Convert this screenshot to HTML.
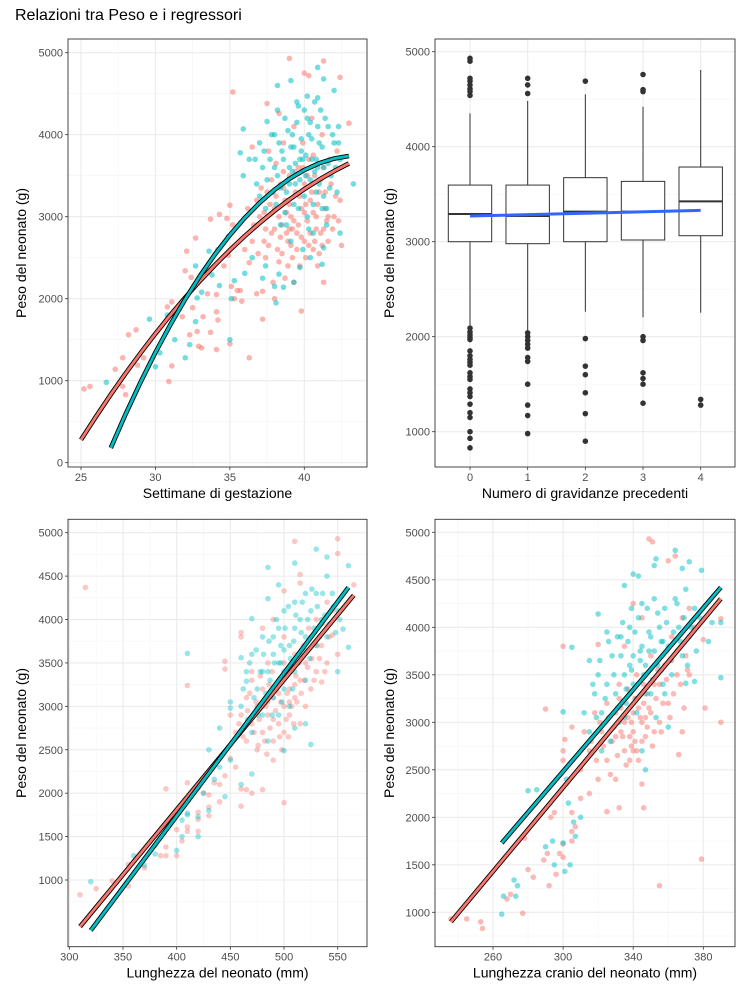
<!DOCTYPE html>
<html><head><meta charset="utf-8">
<style>
body{margin:0;background:#fff;}
svg{display:block;font-family:"Liberation Sans",Arial,sans-serif;}
</style></head>
<body>
<svg id="chart" width="750" height="1000" viewBox="0 0 750 1000" xmlns="http://www.w3.org/2000/svg">
<text x="15" y="20" font-size="16" fill="#000">Relazioni tra Peso e i regressori</text>
</svg>
<script>
// ---------- DATA ----------
// Panel 1: gestation weeks vs weight
const p1RedPts = "25.2 900,25.6 930,27.3 1140,27.8 1280,27.8 930,28 830,28.2 1560,28.7 1620,28.8 1190,29.2 1280,30.9 990,31.1 1180,30.8 1900,31.1 1960,31.8 1780,32.1 2580,32 2340,32.3 1560,32.4 2260,32.5 1890,32.8 1600,32.9 1420,33.1 1400,32.7 2740,33.2 1780,33.5 2060,33.7 1590,33.7 2970,34.1 1380,34.2 1740,34.1 1840,34.1 2050,34.3 3030,34.6 2400,34.8 2980,35 3140,34.9 2530,35 1450,35.1 2150,35.2 2900,35.3 2000,35.2 4520,35.5 2100,35.7 2100,35.8 1970,36.3 1280,36.3 2440,36.5 3850,36.8 2060,37.2 1750,37.2 2090,37.4 2500,37.5 4380,38 2000,38.3 4260,38.7 2250,39 4930,39.3 2200,39.8 1850,40 4750,40.3 4720,41.3 4900,41.3 2200,42.4 4700,42.5 2650,43 4140,42.4 3200,37 3000,37.3 2700,37.5 3300,37.8 2800,38 3100,38.2 2600,38.4 3400,38.5 2900,38.7 3200,38.9 2700,39 3500,39.1 3000,39.2 2500,39.4 3300,39.5 2800,39.6 3600,39.8 3100,40 2700,40 3400,40.2 2950,40.3 3700,40.4 3200,40.6 2600,40.7 3500,40.8 3000,41 3300,41.1 2800,41.3 3600,41.4 3100,41.6 2700,41.8 3400,42 3000,42.2 3800,37.6 3800,38.1 3650,38.6 3900,39.3 4100,39.9 3900,40.5 4200,41.2 4000,38.3 2450,39.7 2400,40.9 2400,36.8 3200,36.5 2700,37.9 2200,36 2600,36.2 3100,38.8 3050,39.6 2900,40.1 3150,40.6 3050,39.2 2850,38.4 2750,41.5 2950,36.6 2900,36.9 2550,37.1 3350,37.3 3050,37.6 2650,37.8 3450,38.0 2850,38.1 3250,38.3 3000,38.5 2550,38.6 3350,38.8 2800,39.0 3150,39.1 2650,39.3 2950,39.4 3550,39.5 2600,39.7 3250,39.8 2750,40.0 3050,40.1 2500,40.2 3500,40.4 2800,40.5 3300,40.6 3750,40.7 2700,40.9 3150,41.0 2550,41.1 3450,41.3 2850,41.4 3300,41.6 3000,41.7 3700,41.9 2850,42.1 3250,42.3 2950,37.4 2850,38.6 3550,39.9 3600,41.2 2650,38.9 2400,40.3 2650,37.7 3150,39.0 2850,40.8 2850";
const p1CyanPts = "26.7 980,29.6 1750,30 1170,30.3 1340,30.8 1800,31.3 1500,32 1280,32.3 1440,32.7 1720,32.8 2010,32.7 2400,33.1 2080,33.6 2580,33.8 2290,34.3 2160,34.2 2600,35 1500,35.1 2000,34.9 2760,35.3 2220,35.7 3780,35.9 3500,35.9 4070,36 2310,36.3 3700,36.5 2500,37.2 2250,37.5 4160,37.4 2400,38 2150,38.1 1950,38.2 4600,38.6 2140,39.1 4660,39.7 2380,40.2 4470,40.9 4820,41.3 4680,41.2 2420,41.3 2620,42 4540,42.4 2800,43.3 3400,36.8 3400,37 3900,37.2 3600,37.4 3100,37.7 3700,37.9 3300,38 4000,38.2 3500,38.4 2900,38.5 3800,38.7 4200,38.8 3300,39 3600,39.1 2700,39.2 4000,39.4 3400,39.5 4400,39.6 3100,39.8 3800,39.9 2600,40 4300,40.1 3500,40.2 3000,40.3 4000,40.5 3700,40.6 2800,40.7 4400,40.8 3300,41 3900,41.1 4300,41.2 3100,41.3 3600,41.5 2900,41.6 4100,41.8 3500,42 3900,42.2 3300,42.3 4100,42.4 3700,38.3 2300,39.3 2200,40.4 2500,39.7 3700,40.9 3600,39.3 3850,38.9 3450,40.4 4150,36.7 3700,37.0 3250,37.3 3800,37.5 3450,37.8 4000,38.0 3600,38.1 3150,38.3 3900,38.4 3350,38.6 3700,38.7 3050,38.9 4050,39.0 3400,39.1 3850,39.3 3150,39.4 3650,39.5 4150,39.7 3450,39.8 3950,40.0 3250,40.1 3750,40.2 4200,40.4 3450,40.5 3950,40.6 3150,40.8 3700,40.9 4100,41.0 3400,41.2 3850,41.3 3250,41.4 4200,41.6 3650,41.7 3350,41.9 4000,42.1 3600,42.3 3900,38.2 4300,39.6 4350,40.9 4450,38.8 2900,40.3 2850,41.5 3100,39.2 3550,40.7 3550,39.9 3700";
const p1RedCurveX = [25,26,27,28,29,30,31,32,33,34,35,36,37,38,39,40,41,42,43];
const p1RedCurveY = [280,561,831,1090,1337,1574,1800,2015,2219,2411,2593,2764,2923,3072,3210,3336,3452,3556,3650];
const p1CyanCurveX = [27,28,29,30,31,32,33,34,35,36,37,38,39,40,41,42,43];
const p1CyanCurveY = [180,594,982,1345,1682,1994,2280,2541,2776,2986,3170,3329,3462,3569,3652,3709,3740];
const p1XTicks = [25,30,35,40];
const p1YTicks = [0,1000,2000,3000,4000,5000];

// Panel 2: boxplots
const p2Cats = ["0","1","2","3","4"];
const p2Q1 = [3000,2979,3000,3018,3063];
const p2Med = [3291,3270,3316,3316,3425];
const p2Q3 = [3596,3596,3674,3635,3786];
const p2WLo = [2105,2053,2263,2204,2253];
const p2WHi = [4351,4481,4551,4421,4807];
const p2Outliers = [
  [4930,4900,4720,4690,4650,4610,4580,4540,2090,2050,2020,1990,1970,1850,1800,1760,1730,1700,1620,1580,1550,1450,1410,1370,1290,1200,1150,1000,930,830],
  [4720,4650,4560,2040,2000,1960,1920,1880,1780,1740,1500,1280,1170,980],
  [4690,1980,1690,1600,1410,1190,900],
  [4760,4600,4580,2000,1960,1620,1560,1500,1300],
  [1340,1280]
];
const p2TrendStart = 3270, p2TrendEnd = 3330;
const p2YTicks = [1000,2000,3000,4000,5000];

// Panel 3: length vs weight
const p3RedPts = "310 830,315 4370,325 900,340 990,355 930,355 1180,370 1140,380 1400,385 1280,390 1280,390 1380,390 2050,400 1280,400 1580,405 1450,410 1560,410 1610,410 3240,410 2120,420 1560,420 1780,420 1700,420 2060,425 2000,430 1740,430 1980,430 1840,435 2120,440 1900,440 2100,445 3520,445 3430,445 2200,450 2900,450 2400,455 2300,460 3850,460 3800,460 1850,460 2050,465 2040,470 2000,480 2040,490 2380,500 1890,500 4330,510 4900,515 4520,515 4420,550 4930,550 4760,565 4400,545 3820,550 3600,535 3280,455 2700,460 2900,465 3100,465 2600,470 2800,470 3300,475 2500,475 3000,480 2700,480 3200,485 2900,485 3500,490 2600,490 3100,495 2800,495 3300,500 3000,500 2700,500 3500,505 3200,505 2900,510 3100,510 3600,515 2800,515 3300,520 3500,520 3000,525 3800,525 3200,530 3400,530 4000,535 3700,540 4200,540 3500,545 4100,480 3900,490 4000,500 3800,470 3400,485 3050,495 3150,505 3050,490 2850,510 3250,458 2800,462 2650,466 2950,468 3150,472 2700,474 3050,477 2850,478 3350,482 2600,483 3000,486 3250,487 2750,489 3400,492 2950,493 3200,496 2650,497 3050,499 3350,502 2850,503 3150,506 3400,507 3000,509 2800,511 3350,512 3050,514 3500,516 3150,518 3700,519 3300,522 3450,523 3900,526 3550,528 3300,531 3700,533 3550,536 3950,538 3400,542 3800,476 2550,484 2450,498 2500,504 2650";
const p3CyanPts = "320 980,360 1280,370 1170,380 1300,400 1340,405 1500,405 1690,410 1770,410 1750,410 3610,420 1500,420 1730,425 2000,430 1800,430 2500,435 2160,440 2750,440 2300,445 1960,450 2380,450 2980,450 3050,460 2100,460 3560,465 3290,470 4010,470 2220,485 4240,485 4600,495 4400,500 2490,510 4650,510 2750,520 2800,525 2560,530 4810,540 4720,550 3400,560 4620,560 3680,555 3890,460 3000,465 3400,470 3600,470 2700,475 3200,480 3800,480 2900,485 3400,485 2600,490 3600,490 3100,495 3900,495 2900,500 3400,500 4100,500 3200,505 3700,505 3000,510 3900,510 4200,510 3400,515 3600,515 4000,520 3800,520 4300,520 3300,525 4100,530 3700,530 4300,535 4000,540 4500,540 3800,545 4300,550 4100,490 3800,480 3400,495 3500,505 3450,500 3650,462 3200,466 2850,468 3500,472 3100,474 3650,476 2900,478 3400,481 3600,483 3150,486 3750,487 3300,489 2900,491 3500,493 4000,494 3250,497 3700,498 3050,501 3900,502 3350,504 4150,506 3550,508 3200,509 3750,511 4050,513 3500,516 3850,517 4200,519 3650,522 4000,524 3550,526 4350,528 3900,531 4150,533 3800,536 4300,538 4050,542 3950,546 4150,548 3850,552 4000,481 3050,497 3500";
const p3RedLineX = [310,565], p3RedLineY = [463,4280];
const p3CyanLineX = [320,560], p3CyanLineY = [420,4370];
const p3XTicks = [300,350,400,450,500,550];
const p3YTicks = [1000,1500,2000,2500,3000,3500,4000,4500,5000];

// Panel 4: head circumference vs weight
const p4RedPts = "236 930,245 930,253 900,254 830,268 1140,270 1190,277 990,278 1780,280 1450,283 1370,289 1550,290 3140,291 1620,292 1280,293 2000,295 2050,296 1400,298 1620,300 1580,300 1720,300 2600,300 2700,300 3800,301 2820,305 1850,305 1750,305 2050,305 2950,307 1900,310 2200,312 2900,315 2250,320 3820,325 2060,332 2100,345 2350,346 2100,349 4930,351 4900,355 1280,360 4700,364 4750,366 2660,368 2900,372 3500,379 1560,381 3150,380 3870,390 3000,390 4090,310 2500,315 2700,318 3100,320 2400,322 2900,325 3200,325 2600,328 2800,330 3100,330 2400,332 3400,335 2700,335 3000,338 2600,338 3300,340 2900,340 3100,342 2700,342 3500,345 3000,345 2800,348 3300,350 3100,350 3700,352 2900,355 3400,355 3000,358 3600,360 3200,362 3900,365 3500,368 4100,370 3700,372 4200,375 4000,345 4100,340 4250,335 3800,337 3050,343 3150,333 2900,347 3050,339 2750,316 2800,319 2600,321 3000,323 2750,326 3050,327 2450,329 2950,331 2650,333 3150,334 2850,336 2550,337 3350,339 3000,341 2800,341 3250,343 2600,344 3050,346 3400,347 2850,349 3150,351 2750,353 3250,354 3550,356 2900,357 3200,359 3450,361 3050,363 3300,365 3750,367 3400,369 3150,371 3550,330 2850,338 2850,346 3200,352 3400,332 3250,340 2700,348 2950,362 3650";
const p4CyanPts = "265 980,266 1170,272 1340,273 1170,274 1280,280 2280,285 2290,290 1690,294 1750,295 1500,300 1730,300 3110,301 1430,302 2400,303 2150,304 1500,305 3790,306 1950,307 1800,310 2000,312 3100,315 3650,320 4140,322 2700,325 3950,335 4440,340 4560,343 4540,347 2500,352 4650,353 4720,364 4810,368 4620,372 4690,379 4600,383 3850,385 4050,390 3470,390 4050,375 3430,370 3410,315 2900,318 3300,320 3500,322 3100,325 3400,327 2800,328 3700,330 3300,332 3000,333 3900,335 3500,336 3200,338 4000,340 3700,340 3400,342 3100,343 4100,345 3800,346 3500,348 4200,350 3900,350 3300,352 4300,354 3600,355 4000,357 3400,358 4200,360 3800,362 3500,364 4300,366 4000,368 3700,370 4400,372 3900,375 4200,360 2950,345 2700,344 3650,338 3600,349 3750,356 3850,317 3400,319 3050,321 3650,324 3250,326 3850,329 3500,331 3150,333 3700,334 4050,336 3350,337 3850,339 3550,341 3950,342 3250,344 3750,345 4250,347 3600,349 3950,351 3450,352 3750,354 4150,356 3550,357 3850,359 4050,361 3650,363 3950,365 4250,367 3850,369 4100,371 3600,373 4000,376 3750,378 4100,335 3050,347 3300,353 3050,358 3300,331 3900,339 4200";
const p4RedLineX = [236,390], p4RedLineY = [900,4300];
const p4CyanLineX = [265,390], p4CyanLineY = [1730,4420];
const p4XTicks = [260,300,340,380];
const p4YTicks = [1000,1500,2000,2500,3000,3500,4000,4500,5000];

// ---------- DRAWING ----------
const NS = "http://www.w3.org/2000/svg";
const svg = document.getElementById("chart");
const RED = "#F8766D", CYAN = "#00BFC4";
function mk(tag, attrs, parent){
  const e = document.createElementNS(NS, tag);
  for (const k in attrs) e.setAttribute(k, attrs[k]);
  (parent||svg).appendChild(e);
  return e;
}
function parsePts(s){ return s.split(",").map(p=>p.trim().split(" ").map(Number)); }
function lin(d0,d1,r0,r1){ return v => r0 + (v-d0)*(r1-r0)/(d1-d0); }

function panel(opt){
  const g = mk("g", {});
  
  
  opt.xMinor.forEach(v=>{ const x=opt.sx(v); mk("line",{x1:x,x2:x,y1:opt.top,y2:opt.bottom,stroke:"#f4f4f4","stroke-width":0.6},g); });
  opt.yMinor.forEach(v=>{ const y=opt.sy(v); mk("line",{x1:opt.left,x2:opt.right,y1:y,y2:y,stroke:"#f4f4f4","stroke-width":0.6},g); });
  opt.xTicks.forEach(v=>{ const x=opt.sx(v); mk("line",{x1:x,x2:x,y1:opt.top,y2:opt.bottom,stroke:"#ebebeb","stroke-width":1.1},g); });
  opt.yTicks.forEach(v=>{ const y=opt.sy(v); mk("line",{x1:opt.left,x2:opt.right,y1:y,y2:y,stroke:"#ebebeb","stroke-width":1.1},g); });
  const xg = mk("g",{},g);
  
  
  opt.xTicks.forEach((v,i)=>{
    const x=opt.sx(v);
    mk("line",{x1:x,x2:x,y1:opt.bottom,y2:opt.bottom+3,stroke:"#333","stroke-width":0.8},xg);
    const t=mk("text",{x:x,y:opt.bottom+14,"font-size":11,fill:"#4d4d4d","text-anchor":"middle"},xg);
    t.textContent = opt.xLabels ? opt.xLabels[i] : v;
    
    
  });
  const yg = mk("g",{},g);
  
  
  opt.yTicks.forEach(v=>{
    const y=opt.sy(v);
    mk("line",{x1:opt.left-3,x2:opt.left,y1:y,y2:y,stroke:"#333","stroke-width":0.8},yg);
    const t=mk("text",{x:opt.left-5,y:y+4,"font-size":11,fill:"#4d4d4d","text-anchor":"end"},yg);
    t.textContent = v;
    
    
  });
  const xt=mk("text",{x:(opt.left+opt.right)/2,y:opt.bottom+31,"font-size":14,fill:"#000","text-anchor":"middle"},g);
  xt.textContent=opt.xTitle;
  
  
  const yt=mk("text",{x:opt.yTitleX,y:(opt.top+opt.bottom)/2,"font-size":14,fill:"#000","text-anchor":"middle",transform:`rotate(-90 ${opt.yTitleX} ${(opt.top+opt.bottom)/2})`},g);
  yt.textContent="Peso del neonato (g)";
  
  
  const marks = mk("g",{},g);
  
  
  opt.draw(marks);
  const b=mk("rect",{x:opt.left,y:opt.top,width:opt.right-opt.left,height:opt.bottom-opt.top,fill:"none",stroke:"#333","stroke-width":0.9},g);
  
  
}
function dots(g, pts, color, op, sx, sy, name){
  const grp = mk("g",{},g);
  
  
  pts.forEach(p=>{
    const c = mk("circle",{cx:sx(p[0]),cy:sy(p[1]),r:2.8,fill:color,"fill-opacity":op},grp);
    
    
  });
}
function fitLine(g, xs, ys, color, sx, sy, name){
  const d = xs.map((x,i)=>(i?"L":"M")+sx(x).toFixed(2)+","+sy(ys[i]).toFixed(2)).join(" ");
  const o = mk("path",{d:d,fill:"none",stroke:"#000","stroke-width":4.6,"stroke-linecap":"butt","stroke-linejoin":"round"},g);
  
  
  const l = mk("path",{d:d,fill:"none",stroke:color,"stroke-width":2.8,"stroke-linecap":"butt","stroke-linejoin":"round"},g);
  
  
}

// Panel 1
{
  const sx=lin(25,40,81,304.3), sy=lin(0,5000,462.7,52.7);
  panel({name:"gestation-panel",left:68,right:367,top:39,bottom:467,sx,sy,
    xTicks:p1XTicks,yTicks:p1YTicks,xMinor:[27.5,32.5,37.5,42.5],yMinor:[500,1500,2500,3500,4500],
    xTitle:"Settimane di gestazione",yTitleX:26,
    draw:g=>{
      dots(g,parsePts(p1RedPts),RED,0.55,sx,sy,"female-points");
      dots(g,parsePts(p1CyanPts),CYAN,0.55,sx,sy,"male-points");
      fitLine(g,p1RedCurveX,p1RedCurveY,RED,sx,sy,"female-fit-curve");
      fitLine(g,p1CyanCurveX,p1CyanCurveY,CYAN,sx,sy,"male-fit-curve");
    }});
}
// Panel 2
{
  const sx=lin(0,4,470,700.7), sy=lin(1000,5000,431.7,51.7);
  panel({name:"pregnancies-panel",left:435,right:735,top:39,bottom:467,sx,sy,
    xTicks:[0,1,2,3,4],xLabels:p2Cats,yTicks:p2YTicks,xMinor:[],yMinor:[1500,2500,3500,4500],
    xTitle:"Numero di gravidanze precedenti",yTitleX:394,
    draw:g=>{
      const hw=21.7;
      p2Cats.forEach((c,i)=>{
        const bg=mk("g",{},g);
        
        
        const x=sx(i);
        mk("line",{x1:x,x2:x,y1:sy(p2WHi[i]),y2:sy(p2Q3[i]),stroke:"#333","stroke-width":1},bg);
        mk("line",{x1:x,x2:x,y1:sy(p2Q1[i]),y2:sy(p2WLo[i]),stroke:"#333","stroke-width":1},bg);
        mk("rect",{x:x-hw,y:sy(p2Q3[i]),width:2*hw,height:sy(p2Q1[i])-sy(p2Q3[i]),fill:"#fff",stroke:"#333","stroke-width":1},bg);
        mk("line",{x1:x-hw,x2:x+hw,y1:sy(p2Med[i]),y2:sy(p2Med[i]),stroke:"#333","stroke-width":2},bg);
        p2Outliers[i].forEach(v=>{
          const o=mk("circle",{cx:x,cy:sy(v),r:2.8,fill:"#333"},bg);
          
          
        });
      });
      const t=mk("line",{x1:sx(0),x2:sx(4),y1:sy(p2TrendStart),y2:sy(p2TrendEnd),stroke:"#3366FF","stroke-width":3},g);
      
      
    }});
}
// Panel 3
{
  const sx=lin(300,550,69.3,337.7), sy=lin(1000,5000,880,532.7);
  panel({name:"length-panel",left:68,right:367,top:519.3,bottom:946.7,sx,sy,
    xTicks:p3XTicks,yTicks:p3YTicks,xMinor:[325,375,425,475,525],yMinor:[750,1250,1750,2250,2750,3250,3750,4250,4750],
    xTitle:"Lunghezza del neonato (mm)",yTitleX:26,
    draw:g=>{
      dots(g,parsePts(p3RedPts),RED,0.4,sx,sy,"female-points");
      dots(g,parsePts(p3CyanPts),CYAN,0.4,sx,sy,"male-points");
      fitLine(g,p3RedLineX,p3RedLineY,RED,sx,sy,"female-fit-line");
      fitLine(g,p3CyanLineX,p3CyanLineY,CYAN,sx,sy,"male-fit-line");
    }});
}
// Panel 4
{
  const sx=lin(260,380,493,703.3), sy=lin(1000,5000,912.3,532.3);
  panel({name:"head-panel",left:435,right:735,top:519.3,bottom:946.7,sx,sy,
    xTicks:p4XTicks,yTicks:p4YTicks,xMinor:[240,280,320,360],yMinor:[750,1250,1750,2250,2750,3250,3750,4250,4750],
    xTitle:"Lunghezza cranio del neonato (mm)",yTitleX:394,
    draw:g=>{
      dots(g,parsePts(p4RedPts),RED,0.5,sx,sy,"female-points");
      dots(g,parsePts(p4CyanPts),CYAN,0.5,sx,sy,"male-points");
      fitLine(g,p4RedLineX,p4RedLineY,RED,sx,sy,"female-fit-line");
      fitLine(g,p4CyanLineX,p4CyanLineY,CYAN,sx,sy,"male-fit-line");
    }});
}
</script>
</body></html>
